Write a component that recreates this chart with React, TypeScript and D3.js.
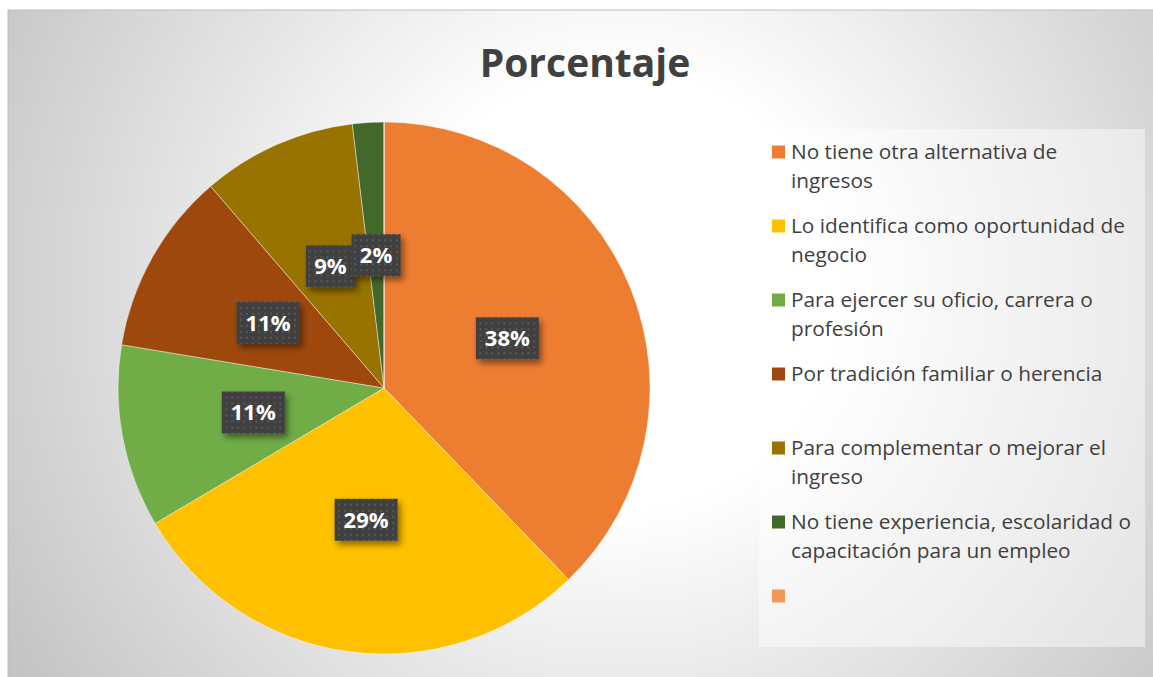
import * as d3 from "d3";

const categories = [
  "No tiene otra alternativa de\ningresos",
  "Lo identifica como oportunidad de\nnegocio",
  "Para ejercer su oficio, carrera o\nprofesión",
  "Por tradición familiar o herencia",
  "Para complementar o mejorar el\ningreso",
  "No tiene experiencia, escolaridad o\ncapacitación para un empleo",
  "",
];
const values = [37.8, 28.7, 11.1, 11.1, 9.4, 1.9, 0];
const colors = ["#ED7D31", "#FFC000", "#70AD47", "#9E480E", "#997300", "#43682B", "#F1975A"];
const title = "Porcentaje";

const width = 1153;
const height = 677;
const cx = 384;
const cy = 388;
const radius = 266;

export default function App() {
  const pie = d3.pie<number>().sort(null).value((d) => d);
  const arcs = pie(values);
  const arc = d3.arc<d3.PieArcDatum<number>>().innerRadius(0).outerRadius(radius);
  const labelArc = d3.arc<d3.PieArcDatum<number>>().innerRadius(radius * 0.5).outerRadius(radius * 0.5);

  const legendX = 772;
  const legendY = 152;
  const itemStep = 74;
  const lineH = 29;

  return (
    <svg
      width={width}
      height={height}
      style={{ position: "absolute", left: 0, top: 0, fontFamily: "'Open Sans', sans-serif" }}
    >
      <defs>
        <radialGradient id="bg" gradientUnits="userSpaceOnUse" cx={620} cy={290} r={720}>
          <stop offset="0" stopColor="#ffffff" />
          <stop offset="0.3" stopColor="#ffffff" />
          <stop offset="1" stopColor="#c3c3c3" />
        </radialGradient>
        <pattern id="dots" width={6} height={6} patternUnits="userSpaceOnUse">
          <rect width={6} height={6} fill="#404040" />
          <rect x={2} y={2} width={2} height={2} fill="#585858" />
        </pattern>
        <filter id="shadow" x="-30%" y="-30%" width="160%" height="180%">
          <feDropShadow dx={3} dy={4} stdDeviation={3} floodColor="#000" floodOpacity={0.45} />
        </filter>
      </defs>

      <rect x={8} y={10} width={width} height={height} fill="url(#bg)" stroke="#bdbdbd" strokeWidth={1} />

      <text x={585} y={77} textAnchor="middle" fontSize={39} fontWeight="bold" fill="#404040">
        {title}
      </text>

      <g transform={`translate(${cx},${cy})`}>
        {arcs.map((a, i) => (
          <path key={i} d={arc(a) || ""} fill={colors[i]} stroke="#ffffff" strokeWidth={0.6} strokeOpacity={0.7} />
        ))}
        {arcs.map((a, i) => {
          if (a.data <= 0) return null;
          const [lx, ly] = labelArc.centroid(a);
          const txt = Math.round(a.data) + "%";
          const w = txt.length === 2 ? 49 : 63;
          const h = 42;
          return (
            <g key={"l" + i} transform={`translate(${lx},${ly})`}>
              <rect x={-w / 2} y={-h / 2} width={w} height={h} fill="url(#dots)" filter="url(#shadow)" />
              <text y={0} dy="0.36em" textAnchor="middle" fontSize={22} fontWeight="bold" fill="#ffffff">
                {txt}
              </text>
            </g>
          );
        })}
      </g>

      <rect x={759} y={129} width={386} height={518} fill="#ffffff" fillOpacity={0.45} />

      <g>
        {categories.map((c, i) => {
          const y = legendY + i * itemStep;
          const lines = c.split("\n");
          return (
            <g key={i}>
              <rect x={legendX} y={y - 6.5} width={13} height={13} fill={colors[i]} />
              {lines.map((ln, j) =>
                ln ? (
                  <text key={j} x={legendX + 19} y={y + j * lineH} dy="0.35em" fontSize={20.8} fill="#404040">
                    {ln}
                  </text>
                ) : null
              )}
            </g>
          );
        })}
      </g>
    </svg>
  );
}
